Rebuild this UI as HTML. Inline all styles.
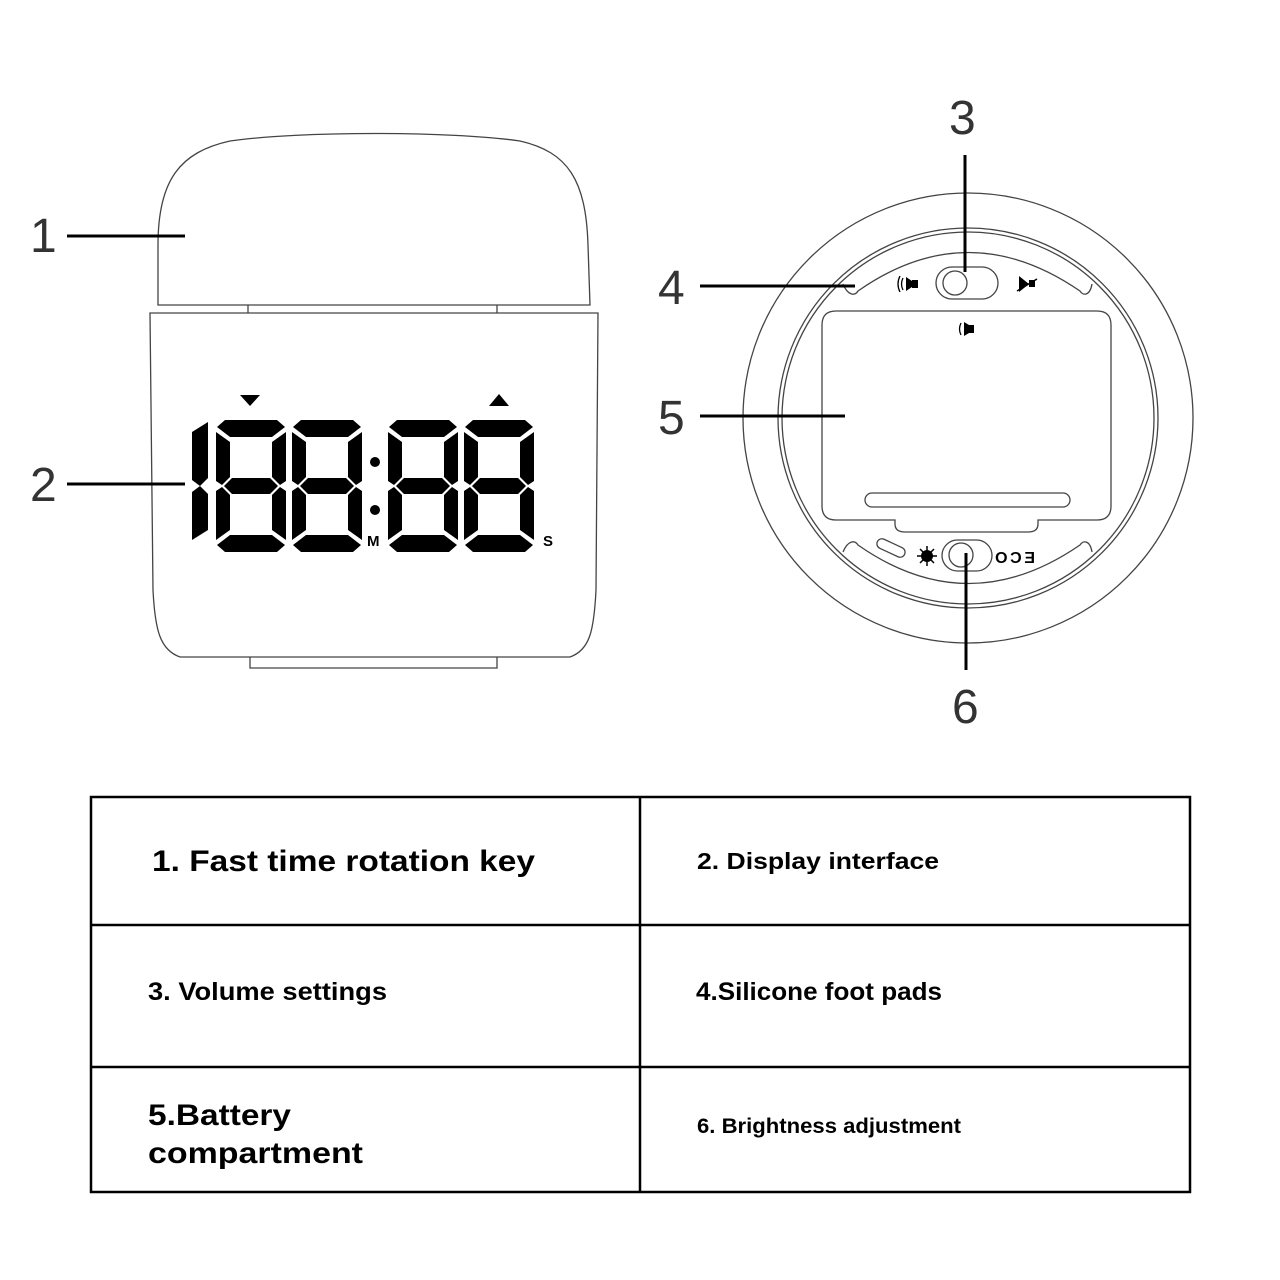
<!DOCTYPE html>
<html><head><meta charset="utf-8"><style>
html,body{margin:0;padding:0;background:#fff}
svg{display:block}
text{font-family:"Liberation Sans",sans-serif}
</style></head><body>
<svg width="1280" height="1280" viewBox="0 0 1280 1280" xmlns="http://www.w3.org/2000/svg">
<defs>
<g id="dg">
<polygon points="9,0 61,0 69,7 56,17 14,17 1,7"/>
<polygon points="9,132 61,132 69,125 56,115 14,115 1,125"/>
<polygon points="0,12 14,22 14,57 6,65 0,61"/>
<polygon points="70,12 56,22 56,57 64,65 70,61"/>
<polygon points="0,120 14,110 14,75 6,67 0,71"/>
<polygon points="70,120 56,110 56,75 64,67 70,71"/>
<polygon points="8,66 16,58 54,58 62,66 54,74 16,74"/>
</g>
</defs>
<g fill="none" stroke="#444" stroke-width="1.3">
<path d="M158,305 L158,245 C158,180 180,152 230,141 C300,131 450,131 520,141 C568,152 586,180 588,245 L590,305 Z"/>
<path d="M248,305 L248,313 M497,305 L497,313"/>
<path d="M150,313 L598,313 L596,590 C594,630 590,650 570,657 L180,657 C160,650 155,630 153,590 Z"/>
<path d="M250,657 L250,668 L497,668 L497,657"/>
<circle cx="968" cy="418" r="225"/>
<circle cx="968" cy="418" r="190"/>
<circle cx="968" cy="418" r="186"/>
<path d="M843,284 C848,296 855,296 858,291 Q968,214 1080,291 C1083,296 1090,296 1092,284"/>
<path d="M843,552 C848,540 855,540 858,545 Q968,622 1080,545 C1083,540 1090,540 1092,552"/>
<rect x="936" y="267" width="62" height="32" rx="16"/>
<circle cx="955" cy="283" r="12"/>
<rect x="942" y="540" width="50" height="31" rx="15.5"/>
<circle cx="961" cy="555" r="12"/>
<path d="M836,311 L1097,311 Q1111,311 1111,325 L1111,506 Q1111,520 1097,520 L1038,520 L1038,524 Q1038,532 1028,532 L905,532 Q895,532 895,524 L895,520 L836,520 Q822,520 822,506 L822,325 Q822,311 836,311 Z"/>
<rect x="865" y="493" width="205" height="14" rx="7"/>
<rect x="876" y="543" width="30" height="10" rx="5" transform="rotate(25 891 548)"/>
</g>
<g fill="#000">
<polygon points="906,277 912,281 912,287 906,291"/><rect x="912" y="280" width="6" height="8"/>
<path d="M903,278 Q900,284 903,290" stroke="#000" stroke-width="1.3" fill="none"/>
<path d="M900,276 Q896,284 900,292" stroke="#000" stroke-width="1.3" fill="none"/>
<polygon points="1019,276 1019,292 1029,284"/><rect x="1029" y="280" width="6" height="7"/>
<line x1="1017" y1="291" x2="1037" y2="279" stroke="#000" stroke-width="1.5"/>
<polygon points="964,322 969,325 969,333 964,336"/><rect x="969" y="325" width="5" height="8"/>
<path d="M961,323 Q958,329 961,335" stroke="#000" stroke-width="1.3" fill="none"/>
<circle cx="927" cy="556" r="6"/>
<g stroke="#000" stroke-width="1.5"><line x1="917" y1="556" x2="937" y2="556"/><line x1="927" y1="546" x2="927" y2="566"/><line x1="920" y1="549" x2="934" y2="563"/><line x1="934" y1="549" x2="920" y2="563"/></g>
<text x="995" y="563" font-size="16" font-weight="bold" transform="translate(2030 0) scale(-1 1)" textLength="40">ECO</text>
</g>
<g fill="#000">
<use href="#dg" x="216" y="420"/><use href="#dg" x="292" y="420"/><use href="#dg" x="388" y="420"/><use href="#dg" x="464" y="420"/>
<polygon points="192,432 208,422 208,478 200,486 192,480"/>
<polygon points="192,540 208,530 208,494 200,486 192,492"/>
<circle cx="375" cy="462" r="5"/><circle cx="375" cy="510" r="5"/>
<polygon points="240,395 260,395 250,406"/><polygon points="489,406 509,406 499,394"/>
<text x="367" y="546" font-size="15" font-weight="bold">M</text>
<text x="543" y="546" font-size="15" font-weight="bold">S</text>
</g>
<g stroke="#000" stroke-width="3">
<line x1="67" y1="236" x2="185" y2="236"/>
<line x1="67" y1="484" x2="185" y2="484"/>
<line x1="965" y1="155" x2="965" y2="272"/>
<line x1="700" y1="286" x2="855" y2="286"/>
<line x1="700" y1="416" x2="845" y2="416"/>
<line x1="966" y1="553" x2="966" y2="670"/>
</g>
<g font-size="48" fill="#333">
<text x="30" y="252">1</text>
<text x="30" y="501">2</text>
<text x="949" y="134">3</text>
<text x="658" y="304">4</text>
<text x="658" y="434">5</text>
<text x="952" y="723">6</text>
</g>
<g fill="none" stroke="#000" stroke-width="2.5">
<rect x="91" y="797" width="1099" height="395"/>
<line x1="91" y1="925" x2="1190" y2="925"/>
<line x1="91" y1="1067" x2="1190" y2="1067"/>
<line x1="640" y1="797" x2="640" y2="1192"/>
</g>
<g font-weight="bold" fill="#000">
<text x="152" y="871" font-size="30" textLength="383" lengthAdjust="spacingAndGlyphs">1. Fast time rotation key</text>
<text x="697" y="869" font-size="23" textLength="242" lengthAdjust="spacingAndGlyphs">2. Display interface</text>
<text x="148" y="1000" font-size="25" textLength="239" lengthAdjust="spacingAndGlyphs">3. Volume settings</text>
<text x="696" y="1000" font-size="25" textLength="246" lengthAdjust="spacingAndGlyphs">4.Silicone foot pads</text>
<text x="148" y="1125" font-size="30" textLength="143" lengthAdjust="spacingAndGlyphs">5.Battery</text>
<text x="148" y="1163" font-size="30" textLength="215" lengthAdjust="spacingAndGlyphs">compartment</text>
<text x="697" y="1133" font-size="21" textLength="264" lengthAdjust="spacingAndGlyphs">6. Brightness adjustment</text>
</g>
</svg>
</body></html>
